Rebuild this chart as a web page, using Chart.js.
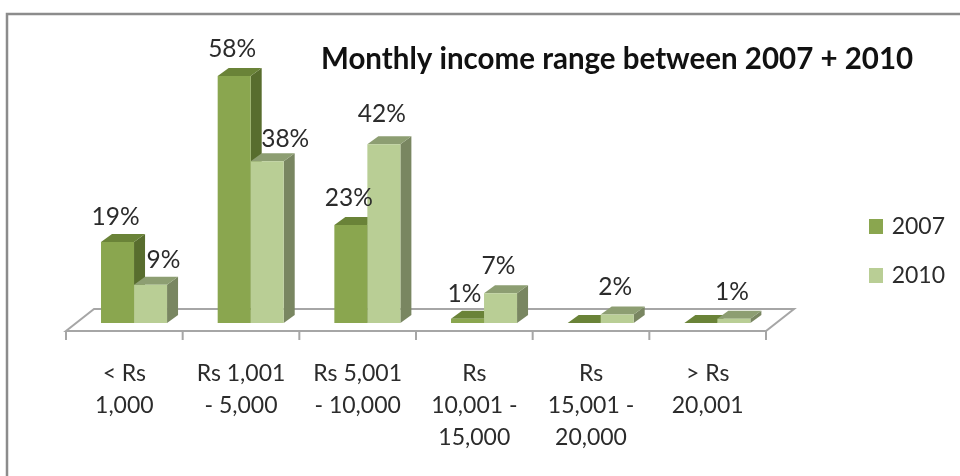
<!DOCTYPE html>
<html><head><meta charset="utf-8">
<style>html,body{margin:0;padding:0;background:#fff}#w{width:960px;height:476px;position:relative}</style>
<script src="https://cdn.jsdelivr.net/npm/chart.js@4/dist/chart.umd.min.js"></script>
</head><body><div id="w"><canvas id="c" width="960" height="476"></canvas></div>
<script>
const categories = [["< Rs","1,000"],["Rs 1,001","- 5,000"],["Rs 5,001","- 10,000"],["Rs","10,001 -","15,000"],["Rs","15,001 -","20,000"],["> Rs","20,001"]];
const series2007 = [19,58,23,1,0,0];
const series2010 = [9,38,42,7,2,1];
const chartTitle = "Monthly income range between 2007 + 2010";

const FONT = "Lato, 'Open Sans', sans-serif";
const TXT = "#2b2b2b";
const depth = {x:11, y:8};
const faces = [
  {front:"#8aa64f", top:"#6a8338", side:"#586d2e"},
  {front:"#b9ce95", top:"#8d9e72", side:"#798661"}
];
const labelDefault = {x:-2, y:-27};
const labelNudge = {"0:0":{x:-2,y:-25}, "1:0":{x:13,y:-25}, "1:1":{x:18,y:-22}, "1:2":{x:-2,y:-30}, "0:3":{x:-3,y:-25}};

const look3d = {
  id:"look3d",
  afterLayout(chart){
    const t = chart.titleBlock; t.left = 321; t.right = 960;
    const l = chart.legend; l.left = 843; l.right = 945; l.top = 189; l.bottom = 470;
  },
  beforeDraw(chart){
    const c = chart.ctx;
    c.save();
    c.fillStyle="#fff"; c.fillRect(0,0,960,476);
    c.strokeStyle="#8c8c8c"; c.lineWidth=2.5;
    c.beginPath(); c.moveTo(7,476); c.lineTo(7,14); c.lineTo(960,14); c.stroke();
    c.restore();
  },
  beforeDatasetsDraw(chart){
    const c = chart.ctx, a = chart.chartArea;
    const fl = a.left-9.7, fr = a.right-9.7, b = a.bottom;
    c.save();
    c.strokeStyle="#a6a6a6"; c.lineWidth=2; c.fillStyle="#fff";
    c.beginPath();
    c.moveTo(fl,b+8); c.lineTo(fr,b+8); c.lineTo(fr+28,b-14); c.lineTo(fl+28,b-14); c.closePath();
    c.fill(); c.stroke();
    const step = (a.right-a.left)/categories.length;
    c.beginPath();
    for(let i=0;i<=categories.length;i++){ c.moveTo(fl+i*step,b+8); c.lineTo(fl+i*step,b+17); }
    c.stroke();
    chart.data.datasets.forEach((d,di)=>{
      chart.getDatasetMeta(di).data.forEach(bar=>{
        const l=bar.x-bar.width/2, r=bar.x+bar.width/2, t=Math.min(bar.y,bar.base), bt=bar.base;
        c.fillStyle=faces[di].side;
        c.beginPath(); c.moveTo(r,t); c.lineTo(r+depth.x,t-depth.y); c.lineTo(r+depth.x,bt-depth.y); c.lineTo(r,bt); c.closePath(); c.fill();
        c.fillStyle=faces[di].top;
        c.beginPath(); c.moveTo(l,t); c.lineTo(l+depth.x,t-depth.y); c.lineTo(r+depth.x,t-depth.y); c.lineTo(r,t); c.closePath(); c.fill();
      });
    });
    c.restore();
  },
  afterDatasetsDraw(chart){
    const c = chart.ctx;
    c.save();
    c.font = "24.5px "+FONT; c.fillStyle=TXT; c.textAlign="center"; c.textBaseline="middle";
    chart.data.datasets.forEach((d,di)=>{
      chart.getDatasetMeta(di).data.forEach((bar,i)=>{
        if(!d.data[i]) return;
        const o = labelNudge[di+":"+i] || labelDefault;
        c.fillText(d.data[i]+"%", bar.x+o.x, bar.y+o.y);
      });
    });
    c.restore();
  }
};

new Chart(document.getElementById("c"),{
  type:"bar",
  data:{labels:categories,datasets:[
    {label:"2007",data:series2007,backgroundColor:faces[0].front,borderWidth:0},
    {label:"2010",data:series2010,backgroundColor:faces[1].front,borderWidth:0}
  ]},
  options:{
    responsive:false,animation:false,
    layout:{padding:{left:75.7,right:184.3,top:0,bottom:0}},
    categoryPercentage:0.566,barPercentage:1,
    plugins:{
      tooltip:{enabled:false},
      title:{display:true,text:chartTitle,align:"start",color:"#111",
        font:{family:FONT,size:29.5,weight:"bold",lineHeight:1.1},padding:{top:42.8,bottom:0.75}},
      legend:{display:true,position:"chartArea",align:"start",
        labels:{boxWidth:14,boxHeight:15,padding:26,color:TXT,textAlign:"right",font:{family:FONT,size:23}}}
    },
    scales:{
      x:{
        afterFit(s){s.height=153;},
        grid:{display:false,drawTicks:false},border:{display:false},
        ticks:{autoSkip:false,maxRotation:0,minRotation:0,padding:34,labelOffset:-9.7,color:TXT,
          font:{family:FONT,size:23,lineHeight:1.41}}
      },
      y:{display:false,min:0,max:58}
    }
  },
  plugins:[look3d]
});
</script></body></html>
